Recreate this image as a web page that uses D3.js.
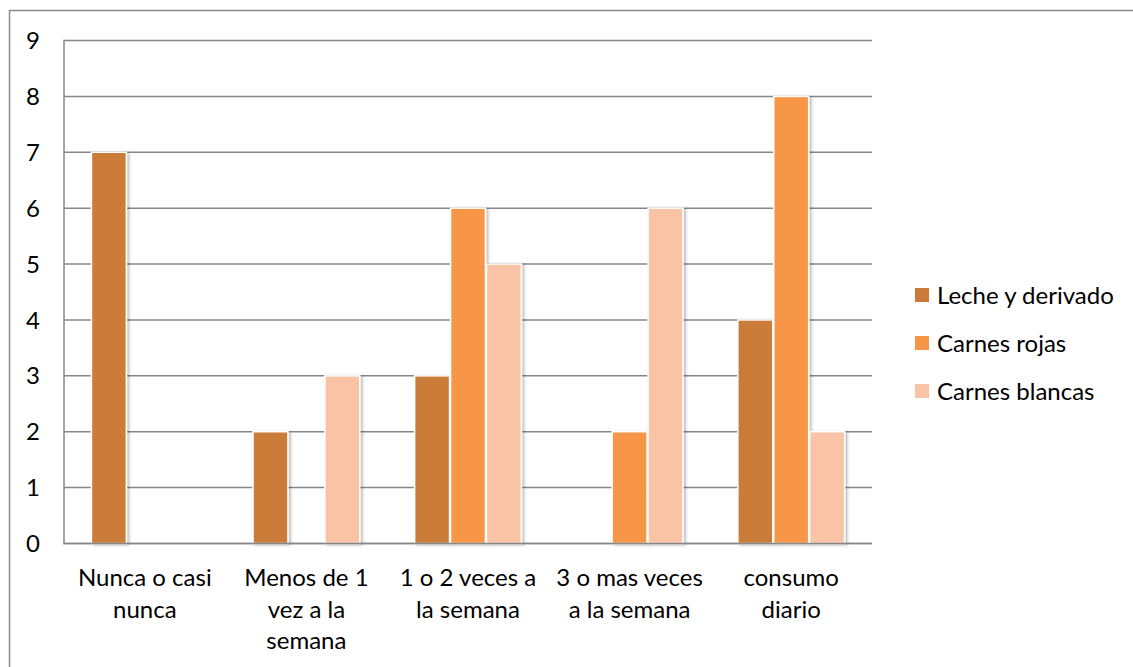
<!DOCTYPE html>
<html>
<head>
<meta charset="utf-8">
<script src="https://cdn.jsdelivr.net/npm/d3@7"></script>
<style>
  html, body { margin: 0; padding: 0; background: #fff; }
  svg { display: block; font-family: Lato, "Open Sans", sans-serif; }
</style>
</head>
<body>
<svg id="chart" width="1133" height="667"></svg>
<script>
// Frequency categories (x axis), shown on several lines
const categories = [
  ["Nunca o casi", "nunca"],
  ["Menos de 1", "vez a la", "semana"],
  ["1 o 2 veces a", "la semana"],
  ["3 o mas veces", "a la semana"],
  ["consumo", "diario"]
];
const seriesNames = ["Leche y derivado", "Carnes rojas", "Carnes blancas"];
const seriesColors = ["#CB7B39", "#F79646", "#FAC3A6"];

// Values per series, one per category
const leche = [7, 2, 3, 0, 4];
const carnesRojas = [0, 0, 6, 2, 8];
const carnesBlancas = [0, 3, 5, 6, 2];
const seriesValues = [leche, carnesRojas, carnesBlancas];

const yTicks = [0, 1, 2, 3, 4, 5, 6, 7, 8, 9];

const svg = d3.select("#chart");
const W = 1133, H = 667;
const plot = { left: 64, right: 872, top: 40.5, bottom: 543.5 };
const gridColor = "#868686";
const fontSize = 24;

// Outer chart frame (runs off the right and bottom edges)
svg.append("rect")
  .attr("x", 9.5).attr("y", 10.5)
  .attr("width", W + 20).attr("height", H + 20)
  .attr("fill", "none").attr("stroke", "#8a8a8a").attr("stroke-width", 1.5);

const defs = svg.append("defs");
const f = defs.append("filter").attr("id", "barShadow")
  .attr("x", "-20%").attr("y", "-5%").attr("width", "160%").attr("height", "115%");
f.append("feDropShadow").attr("dx", 2).attr("dy", 1).attr("stdDeviation", 1.6)
  .attr("flood-color", "#000").attr("flood-opacity", 0.28);

const x0 = d3.scaleBand()
  .domain(d3.range(categories.length))
  .range([plot.left, plot.right])
  .paddingInner(1 / 3).paddingOuter(1 / 6);
const x1 = d3.scaleBand()
  .domain(d3.range(seriesNames.length))
  .range([0, x0.bandwidth()]);
const y = d3.scaleLinear().domain([0, 9]).range([plot.bottom, plot.top]);

// Horizontal gridlines
svg.append("g").selectAll("line").data(yTicks).join("line")
  .attr("x1", plot.left).attr("x2", plot.right)
  .attr("y1", d => y(d)).attr("y2", d => y(d))
  .attr("stroke", gridColor).attr("stroke-width", 1.5);

// Left axis line
svg.append("line")
  .attr("x1", plot.left).attr("x2", plot.left)
  .attr("y1", plot.top - 0.75).attr("y2", plot.bottom + 0.75)
  .attr("stroke", gridColor).attr("stroke-width", 1.5);

// Y tick labels
svg.append("g").selectAll("text").data(yTicks).join("text")
  .attr("x", 40).attr("y", d => y(d))
  .attr("dy", "0.36em").attr("text-anchor", "end")
  .attr("font-size", fontSize).attr("fill", "#000")
  .text(d => d);

// Bars
const groups = svg.append("g").selectAll("g").data(categories).join("g")
  .attr("transform", (d, i) => `translate(${x0(i)},0)`);
groups.selectAll("rect")
  .data((d, i) => seriesValues.map((vals, s) => ({ s, v: vals[i] })).filter(e => e.v > 0))
  .join("rect")
  .attr("x", d => x1(d.s) + 0.5)
  .attr("width", x1.bandwidth() - 1)
  .attr("y", d => y(d.v))
  .attr("height", d => y(0) - y(d.v))
  .attr("fill", d => seriesColors[d.s])
  .attr("stroke", "#fff").attr("stroke-width", 1.5)
  .attr("filter", "url(#barShadow)");

// Bottom axis line drawn over bar bases
svg.append("line")
  .attr("x1", plot.left - 0.75).attr("x2", plot.right)
  .attr("y1", plot.bottom).attr("y2", plot.bottom)
  .attr("stroke", gridColor).attr("stroke-width", 1.5);

// Category labels
const lineH = 31.5;
svg.append("g").selectAll("text").data(categories).join("text")
  .attr("text-anchor", "middle")
  .attr("font-size", fontSize).attr("fill", "#000")
  .attr("transform", (d, i) => `translate(${x0(i) + x0.bandwidth() / 2},586)`)
  .selectAll("tspan").data(d => d).join("tspan")
  .attr("x", 0).attr("y", (d, j) => j * lineH)
  .text(d => d);

// Legend
const legend = svg.append("g").selectAll("g").data(seriesNames).join("g")
  .attr("transform", (d, i) => `translate(915,${295 + i * 48})`);
legend.append("rect")
  .attr("x", 0).attr("y", -7).attr("width", 14).attr("height", 14)
  .attr("fill", (d, i) => seriesColors[i]);
legend.append("text")
  .attr("x", 22).attr("y", 0).attr("dy", "0.36em")
  .attr("font-size", fontSize).attr("fill", "#000")
  .text(d => d);
</script>
</body>
</html>
